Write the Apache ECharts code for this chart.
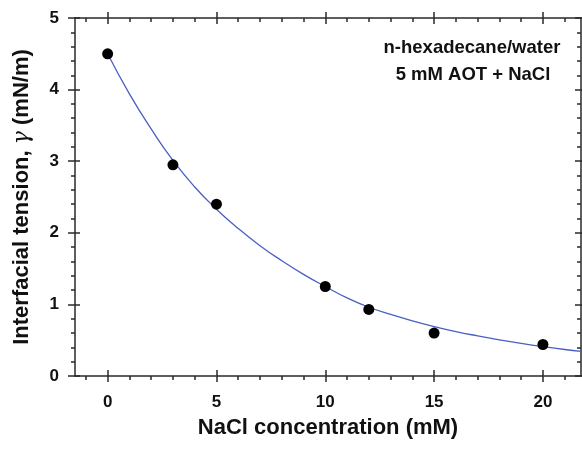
<!DOCTYPE html>
<html>
<head>
<meta charset="utf-8">
<script src="https://cdn.jsdelivr.net/npm/echarts@6/dist/echarts.min.js"></script>
<style>html,body{margin:0;padding:0;background:#fff}#c{width:582px;height:451px}</style>
</head>
<body>
<div id="c"></div>
<script>
// Measured data points
const naclConc = [0, 3, 5, 10, 12, 15, 20];
const tension = [4.50, 2.95, 2.40, 1.25, 0.93, 0.60, 0.44];
// Fitted curve
const curveX = [0, 1, 2, 3, 4, 5, 6, 7, 8, 9, 10, 11, 12, 13, 14, 15, 16, 17, 18, 19, 20, 21, 21.75];
const curveY = [4.50, 3.94, 3.45, 3.01, 2.64, 2.33, 2.06, 1.82, 1.61, 1.42, 1.25, 1.09, 0.96, 0.86, 0.77, 0.69, 0.62, 0.56, 0.505, 0.455, 0.41, 0.37, 0.345];
const xTicks = [0, 5, 10, 15, 20];
const yTicks = [0, 1, 2, 3, 4, 5];
const annotation = ['n-hexadecane/water', '5 mM AOT + NaCl'];

const FONT = '"Liberation Sans", Arial, sans-serif';
const AX = '#2a2a2a';
const xMin = -1.5, xMax = 21.75;
const yMin = 0, yMax = 5;

function xa(opts) {
  return Object.assign({
    type: 'value', min: xMin, max: xMax, interval: 5,
    splitLine: {show: false},
    axisLine: {show: false, onZero: false},
    axisLabel: {show: false},
    axisTick: {show: false},
    minorTick: {show: false}
  }, opts);
}
function ya(opts) {
  return Object.assign({
    type: 'value', min: yMin, max: yMax, interval: 1,
    splitLine: {show: false},
    axisLine: {show: false, onZero: false},
    axisLabel: {show: false},
    axisTick: {show: false},
    minorTick: {show: false}
  }, opts);
}

const xMinorVals = [];
for (let v = -1; v <= 21; v++) if (xTicks.indexOf(v) < 0) xMinorVals.push(v);
const yMinorVals = [];
for (let i = 0; i <= 25; i++) { const v = Math.round(i * 0.2 * 10) / 10; if (yTicks.indexOf(v) < 0) yMinorVals.push(v); }

const tickStyle = {color: AX, width: 1.5};

const option = {
  animation: false,
  grid: {left: 75, right: 1, top: 18, bottom: 75, containLabel: false},
  xAxis: [
    xa({position: 'bottom', name: 'NaCl concentration (mM)', nameLocation: 'middle', nameGap: 41,
        nameTextStyle: {fontFamily: FONT, fontWeight: 'bold', fontSize: 22, color: '#111'},
        axisLine: {show: true, onZero: false, lineStyle: {color: AX, width: 1.5}},
        axisTick: {show: true, inside: false, length: 6, lineStyle: tickStyle, customValues: xTicks},
        axisLabel: {show: true, margin: 18, fontFamily: FONT, fontWeight: 'bold', fontSize: 17, color: '#111', customValues: xTicks}}),
    xa({position: 'bottom', axisTick: {show: true, inside: true, length: 6, lineStyle: tickStyle, customValues: xTicks}}),
    xa({position: 'bottom', axisTick: {show: true, inside: false, length: 4, lineStyle: tickStyle, customValues: xMinorVals}}),
    xa({position: 'top', axisLine: {show: true, onZero: false, lineStyle: {color: AX, width: 1.5}},
        axisTick: {show: true, inside: false, length: 6, lineStyle: tickStyle, customValues: xTicks}}),
    xa({position: 'top', axisTick: {show: true, inside: true, length: 6, lineStyle: tickStyle, customValues: xTicks}}),
    xa({position: 'top', axisTick: {show: true, inside: true, length: 4, lineStyle: tickStyle, customValues: xMinorVals}})
  ],
  yAxis: [
    ya({position: 'left', name: 'Interfacial tension, {g|γ} (mN/m)', nameLocation: 'middle', nameGap: 42,
        nameTextStyle: {fontFamily: FONT, fontWeight: 'bold', fontSize: 22, color: '#111',
          rich: {g: {fontFamily: '"DejaVu Serif", serif', fontStyle: 'italic', fontWeight: 'normal', fontSize: 22, color: '#111'}}},
        axisLine: {show: true, onZero: false, lineStyle: {color: AX, width: 1.5}},
        axisTick: {show: true, inside: false, length: 7, lineStyle: tickStyle, customValues: yTicks},
        axisLabel: {show: true, margin: 16, fontFamily: FONT, fontWeight: 'bold', fontSize: 17, color: '#111', customValues: yTicks}}),
    ya({position: 'left', axisTick: {show: true, inside: true, length: 5, lineStyle: tickStyle, customValues: yTicks}}),
    ya({position: 'left', axisTick: {show: true, inside: false, length: 4, lineStyle: tickStyle, customValues: yMinorVals}}),
    ya({position: 'right', axisLine: {show: true, onZero: false, lineStyle: {color: AX, width: 1.5}},
        axisTick: {show: true, inside: false, length: 6, lineStyle: tickStyle, customValues: yTicks}}),
    ya({position: 'right', axisTick: {show: true, inside: true, length: 6, lineStyle: tickStyle, customValues: yTicks}}),
    ya({position: 'right', axisTick: {show: true, inside: true, length: 4, lineStyle: tickStyle, customValues: yMinorVals}})
  ],
  graphic: [
    {type: 'text', x: 472, y: 48, style: {text: annotation[0], fontFamily: FONT, fontWeight: 'bold', fontSize: 18.5, fill: '#111', textAlign: 'center', textVerticalAlign: 'middle'}},
    {type: 'text', x: 473, y: 75, style: {text: annotation[1], fontFamily: FONT, fontWeight: 'bold', fontSize: 18.5, fill: '#111', textAlign: 'center', textVerticalAlign: 'middle'}}
  ],
  series: [
    {type: 'line', xAxisIndex: 0, yAxisIndex: 0, smooth: true, showSymbol: false, symbol: 'none',
     data: curveX.map((x, i) => [x, curveY[i]]),
     lineStyle: {color: '#4a5fc4', width: 1.3}, z: 2},
    {type: 'scatter', xAxisIndex: 0, yAxisIndex: 0, symbolSize: 11,
     data: naclConc.map((x, i) => [x, tension[i]]),
     itemStyle: {color: '#000', opacity: 1}, z: 3}
  ]
};
const chart = echarts.init(document.getElementById('c'), null, {renderer: 'canvas'});
chart.setOption(option);
</script>
</body>
</html>
